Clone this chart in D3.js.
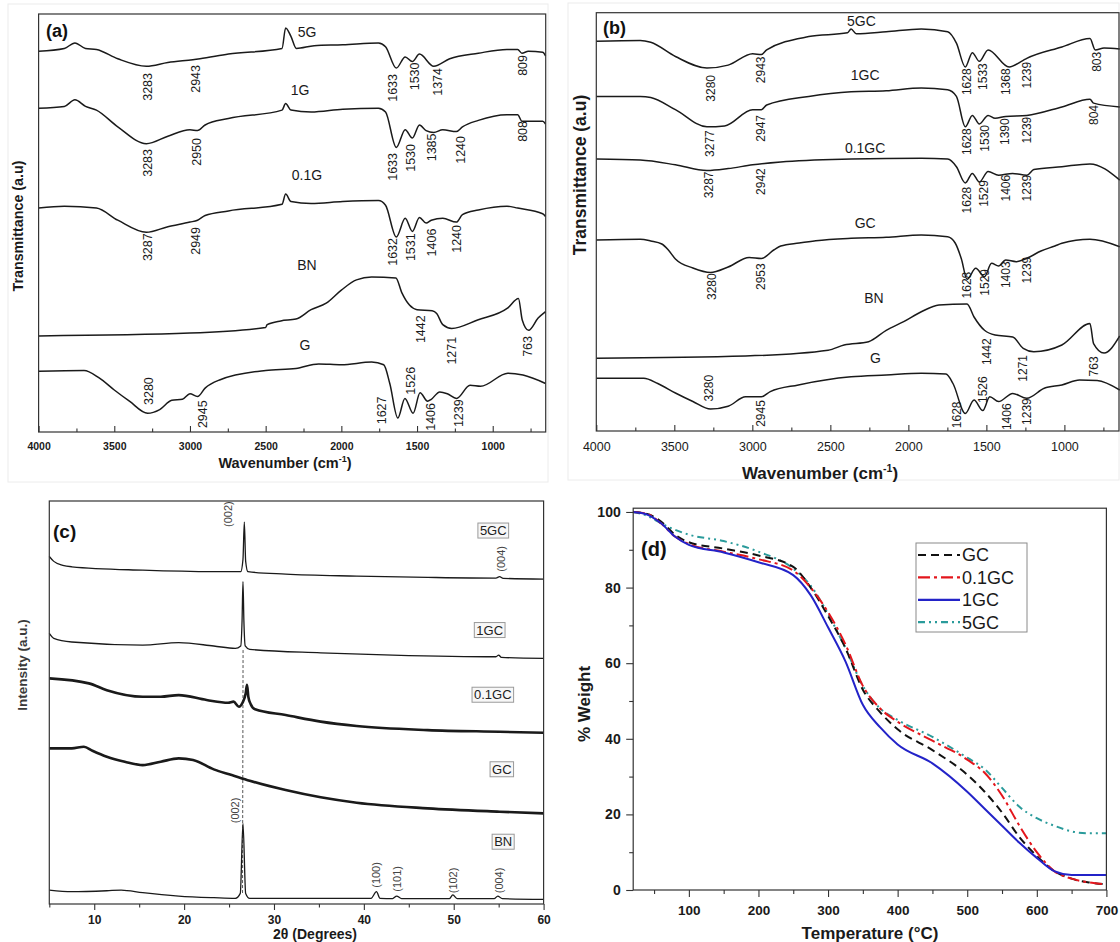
<!DOCTYPE html>
<html>
<head>
<meta charset="utf-8">
<title>FTIR, XRD and TGA of the composites</title>
<script src="https://cdn.jsdelivr.net/npm/d3@7"></script>
<style>
  body { margin: 0; background: #fff; }
  svg { display: block; }
</style>
</head>
<body>
<div id="figure"></div>
<script>
// ---------- shared FTIR axis ----------
const wnTicks = [4000, 3500, 3000, 2500, 2000, 1500, 1000];
const wnMinor = [3750, 3250, 2750, 2250, 1750, 1250, 750];

// ---------- (a) FTIR: [wavenumber, transmittance a.u. (stacked)] ----------
const a5G = [[4000,380.7],[3830,383.5],[3760,389.1],[3690,383.5],[3618,382.5],[3477,373.2],[3288,365.7],[3146,369.5],[2981,372.3],[2934,373.2],[2746,377.9],[2392,383.5],[2368,404],[2333,395.6],[2297,383.5],[2180,386.3],[1991,387.2],[1755,389.1],[1708,385.3],[1637,363.9],[1578,375.1],[1531,370.4],[1484,377.9],[1390,365.7],[1284,373.2],[1095,378.8],[906,382.5],[835,382.5],[807,378.8],[765,380.7],[670,379.7],[651,376]];
const a1G = [[4000,323.8],[3830,325.6],[3760,332.2],[3690,325.6],[3618,321.9],[3477,305.1],[3288,288.3],[3146,295.8],[3000,302.3],[2950,301.4],[2900,307],[2746,313.5],[2392,321.9],[2368,328.4],[2333,321.9],[2200,320],[1991,322.8],[1755,323.8],[1708,320],[1637,284.6],[1578,302.3],[1531,293.9],[1484,307],[1440,301.4],[1390,299.5],[1330,302.3],[1240,300.4],[1200,305.1],[1095,311.6],[906,317.2],[835,317.2],[807,310.7],[670,310.7],[651,307.9]];
const a01G = [[4000,223.9],[3830,225.8],[3618,223.9],[3477,211.8],[3288,199.7],[3146,205.3],[3000,209.9],[2950,211.8],[2900,216.5],[2746,221.1],[2392,227.7],[2368,237.9],[2333,230.5],[2200,228.6],[1991,230.5],[1755,231.4],[1708,226.7],[1637,195],[1578,213.7],[1531,200.6],[1484,214.6],[1440,209],[1406,211.8],[1330,213.7],[1240,209.9],[1200,217.4],[1095,222],[906,225.8],[835,223.9],[670,218.3],[651,215.5]];
const aBN = [[4000,96.1],[3000,98.9],[2500,104.5],[2490,107.3],[2400,111.1],[2300,112.9],[2200,122.3],[2100,128.8],[2000,141.9],[1900,152.1],[1800,154.9],[1640,154],[1600,139.1],[1550,126.9],[1500,122.3],[1400,121.3],[1370,118.5],[1330,107.3],[1271,103.6],[1100,112],[900,124.1],[830,133.5],[805,112],[763,101.7],[700,113.9],[651,120.4]];
const aG = [[4000,60.7],[3700,61.6],[3600,54.1],[3500,42],[3400,30.8],[3280,18.7],[3200,22.4],[3120,31.7],[3050,32.7],[3000,38.3],[2950,35.5],[2900,43.9],[2800,52.3],[2500,61.6],[2300,63.5],[2150,68.1],[2000,67.2],[1800,70],[1720,67.2],[1680,48.5],[1627,14],[1580,33.6],[1526,18.7],[1480,39.2],[1430,30.8],[1406,32.7],[1350,40.1],[1300,38.3],[1239,33.6],[1150,46.7],[1080,45.7],[900,58.8],[800,56.9],[651,48.5]];

// peak labels: [text, wavenumber position, a.u. position, "s" = text sits above]
const aPeaks = [
  ["3283",3277,359],["2943",2960,367],["1633",1659,358],["1530",1519,369.5],["1374",1365,364],["809",800,377],
  ["3283",3277,283],["2950",2958,294],["1633",1659,279],["1530",1541,288],["1385",1402,298.5],["1240",1212,296],["808",800,311],
  ["3287",3277,198.7],["2949",2960,205],["1632",1659,194],["1531",1541,198.7],["1406",1402,203.4],["1240",1236,207],
  ["1442",1476,116.7],["1271",1271,95.2],["763",768,96],
  ["3280",3270,27,"s"],["2945",2914,31.7],["1627",1732,35.5],["1526",1540,37.3,"s"],["1406",1408,29],["1239",1223,32.7]
];
const aNames = [["5G",2227,400],["1G",2273,342],["0.1G",2227,257],["BN",2227,167],["G",2240,87]];

// ---------- (b) FTIR ----------
const b5GC = [[4000,389.7],[3718,390.6],[3651,388.7],[3493,374.5],[3291,363],[3155,365.9],[2998,377.3],[2942,376.4],[2908,381.1],[2638,394.4],[2390,398.2],[2367,402],[2334,397.3],[2142,399.2],[1917,402],[1748,399.2],[1692,387.8],[1635,364],[1590,378.3],[1545,369.7],[1489,381.1],[1354,364],[1264,370.7],[1241,372.6],[1016,384],[836,392.5],[802,381.1],[746,383],[645,382]];
const b1GC = [[4000,334.6],[3718,334.6],[3651,333.6],[3493,321.3],[3291,304.2],[3178,305.1],[2998,321.3],[2942,321.3],[2908,326],[2638,334.6],[2367,339.3],[2142,340.3],[1917,343.1],[1748,341.2],[1692,334.6],[1635,304.2],[1590,315.6],[1545,307],[1489,315.6],[1444,312.7],[1376,314.6],[1241,315.6],[1016,324.1],[836,331.7],[813,327.9],[645,324.1]];
const b01GC = [[4000,271.9],[3718,270.9],[3493,266.2],[3291,260.5],[3155,262.4],[2998,266.2],[2818,269],[2367,271.9],[1917,272.8],[1748,271.9],[1692,264.3],[1635,248.1],[1590,257.6],[1545,249],[1489,259.5],[1422,255.7],[1332,257.6],[1241,255.7],[1196,261.4],[1016,264.3],[836,267.1],[645,250.9]];
const bGC = [[4000,191],[3718,191.7],[3651,190],[3580,187],[3538,181],[3493,172],[3381,163],[3268,158.5],[3155,164],[3020,173.5],[2942,172.5],[2863,181],[2818,185],[2700,188],[2593,190.3],[2367,192.7],[2142,193.7],[1917,196],[1748,194.3],[1700,188],[1660,172],[1624,151.7],[1568,162.7],[1512,154.3],[1467,167.7],[1422,165],[1376,171],[1309,169.3],[1241,172.7],[1150,180],[1061,185],[1016,187.7],[836,191.7],[645,184.3]];
const bBN = [[4000,72.7],[3043,75],[2514,80.8],[2412,86],[2255,89.3],[2142,100.7],[2030,109.3],[1917,119.2],[1804,126],[1624,127],[1579,114],[1512,100.7],[1444,96],[1331,94],[1264,82.7],[1196,79.3],[1016,86],[836,107.4],[813,87.4],[746,77.9],[645,95]];
const bG = [[4000,52.7],[3696,52.7],[3606,47.5],[3493,38],[3381,29.5],[3268,21.9],[3155,24.7],[3043,34.2],[2942,34.2],[2885,39.4],[2705,46.1],[2367,54.2],[2142,56],[1917,57.7],[1759,57],[1714,47.5],[1635,17.6],[1579,31],[1523,20.4],[1478,34.2],[1422,29.5],[1331,37.6],[1241,32.7],[1129,42.8],[1016,46.1],[903,51],[790,50.4],[645,40.9]];

const bPeaks = [
  ["3280",3268,356],["2943",2943,374.5],["1628",1624,362.6],["1533",1524,367.8],["1368",1377,362.6],["1239",1242,369.2],["803",793,379.2],
  ["3277",3270,300.8],["2947",2943,316],["1628",1624,302.7],["1530",1507,306],["1390",1383,312.7],["1239",1242,314.3],["804",813,326],
  ["3287",3279,259.5],["2942",2943,262.8],["1628",1624,244.3],["1529",1516,250.9],["1406",1377,256.2],["1239",1242,256.2],
  ["3280",3258,157.7],["2953",2943,167.7],["1628",1624,159.3],["1529",1507,162],["1403",1377,169.6],["1239",1242,174.3],
  ["1442",1500,92.6],["1271",1264,76],["763",813,74.6],
  ["3280",3279,29.5,"s"],["2945",2943,30.9],["1628",1691,29.5],["1526",1524,28,"s"],["1406",1372,27.6],["1239",1242,32.8]
];
const bNames = [["5GC",2301,410],["1GC",2277,356],["0.1GC",2277,283],["GC",2277,208],["BN",2221,132.6],["G",2211,72.7]];

// ---------- (c) XRD: [2theta, intensity a.u. (stacked)] ----------
const c5GC = [[5.0,355],[5.5,350],[6.5,346],[7.5,344.5],[15.4,341],[23.3,339.5],[26.3,339.5],[26.55,352],[26.7,390],[26.85,350],[27.1,339.5],[31.3,337],[39.2,335],[47.1,333.7],[54.7,333],[55.1,334.4],[55.5,332.7],[60,332]];
const c1GC = [[5.0,276.7],[5.5,271.7],[7.5,268],[15.4,264.9],[19.4,267.3],[23.3,263.9],[25.7,261.5],[26.3,264],[26.45,290],[26.55,329.3],[26.65,290],[26.8,264],[27.3,260.5],[35.2,257],[43.2,254.7],[54.7,253],[55,254.7],[55.3,252.3],[60,251.3]];
const c01GC = [[5.0,231],[9.4,225.9],[11.4,219],[15.4,212.3],[17.4,212.3],[19.4,214],[22.5,209],[24.9,206.2],[25.5,207.3],[26.1,202.2],[26.5,206.2],[26.85,215.7],[27.0,224.5],[27.15,212],[27.4,205],[27.9,199.5],[31.3,193.7],[35.2,187],[39.2,182.5],[47.1,178.4],[55.1,176.7],[60,175.7]];
const cGC = [[5.0,159.8],[7.5,159.8],[8.85,161.5],[9.8,157.4],[11.4,151.3],[13.4,146.2],[15.4,142.8],[17.4,146.2],[19.4,149.6],[21,148],[23.3,138.4],[25.3,132.7],[27.3,126.9],[31.3,117.4],[35.2,110],[39.2,104.5],[47.1,98.8],[55.1,95.4],[60,93.7]];
const cBN = [[5.0,15.7],[7.5,14],[11.4,15],[13,15.7],[15.4,13],[19.4,9.6],[23.3,7.9],[25.7,7.2],[26.25,12.3],[26.55,83.5],[26.85,12.3],[27.3,7.2],[40.8,7.2],[41.4,14],[41.8,7.2],[43.2,7],[43.65,9.6],[44.2,6.9],[49.5,6.9],[49.9,10.7],[50.4,6.9],[54.5,6.9],[54.9,9.6],[55.4,6.9],[60,6.2]];
const cRefLine = [[26.56,259.8],[26.5,12.7]];
const cPeaks = [["(002)",24.9,385],["(004)",55.3,339.5],["(002)",25.7,83.6],["(100)",41.4,18],["(101)",43.7,14],["(102)",49.9,12.4],["(004)",55.1,12.4]];
const cNames = [["5GC",54.4,381.4],["1GC",54.0,280.2],["0.1GC",54.35,214.4],["GC",55.35,138.6],["BN",55.5,64.9]];
const cTicks = [10, 20, 30, 40, 50, 60];
const cMinor = [5, 15, 25, 35, 45, 55];

// ---------- (d) TGA: % weight vs temperature ----------
const tgaTemp = [20, 40, 60, 80, 100, 150, 200, 250, 275, 300, 325, 350, 375, 400, 450, 500, 525, 550, 575, 600, 625, 650, 675, 700];
const tgaGC   = [100, 99.5, 97.5, 94, 92, 90.3, 88.5, 85.5, 80, 72.5, 64, 53, 47, 42.5, 37, 30.5, 26, 20.5, 14, 9, 5, 3, 2, 1.5];
const tga01GC = [100, 99.5, 97, 93.5, 91.5, 89.5, 87.5, 84.5, 80, 73.5, 65, 54, 48, 44.5, 39.5, 34.5, 31, 25, 17, 10, 5, 3, 2, 1.5];
const tga1GC  = [100, 99.3, 97, 93.5, 91.3, 89.3, 86.7, 83.3, 78, 69.5, 60.5, 49, 43, 38.5, 33.5, 26, 21.5, 17, 12.5, 8.5, 5, 4, 4, 4];
const tga5GC  = [100, 99, 97, 95.3, 94, 92.3, 89.5, 85, 80.5, 73, 64, 54, 48, 45, 40.5, 35, 32, 27, 22, 19, 17, 15.5, 15, 15];
const tgaNames = ["GC", "0.1GC", "1GC", "5GC"];
const tgaColors = ["#111111", "#e3161c", "#2323c8", "#2a9b9b"];
const tgaDash = ["8,5", "12,4,3,4", null, "7,4,2,4,2,4"];
const tgaXTicks = [100, 200, 300, 400, 500, 600, 700];
const tgaXMinor = [50, 150, 250, 350, 450, 550, 650];
const tgaYTicks = [0, 20, 40, 60, 80, 100];
const tgaYMinor = [10, 30, 50, 70, 90];

const FONT = "'Liberation Sans', Arial, Helvetica, sans-serif";
const INK = "#1a1a1a";

const svg = d3.select("#figure").append("svg")
  .attr("width", 1120).attr("height", 942)
  .style("font-family", FONT);
svg.append("rect").attr("width", 1120).attr("height", 942).attr("fill", "#fff");

// faint borders of the pasted sub-figures
svg.append("rect").attr("x", 8).attr("y", 4).attr("width", 540).attr("height", 478)
  .attr("fill", "none").attr("stroke", "#ececec");
svg.append("rect").attr("x", 568).attr("y", 3).attr("width", 551).attr("height", 477)
  .attr("fill", "none").attr("stroke", "#ececec");

function styleAxis(sel, size, weight) {
  sel.select(".domain").remove();
  sel.selectAll("line").attr("stroke", "#333").attr("stroke-width", 1.1);
  sel.selectAll("text").attr("fill", INK)
    .style("font-family", FONT).style("font-size", size + "px").style("font-weight", weight);
}

function boxFrame(g, x0, y0, x1, y1) {
  g.append("rect").attr("x", x0).attr("y", y0).attr("width", x1 - x0).attr("height", y1 - y0)
    .attr("fill", "none").attr("stroke", "#333").attr("stroke-width", 1.2);
}

function drawFtir(cfg) {
  const g = svg.append("g");
  const x = d3.scaleLinear().domain([4000, 650]).range([cfg.left, cfg.right]);
  const y = d3.scaleLinear().domain([0, cfg.yMax]).range([cfg.bottom, cfg.top]);
  const line = d3.line().x(d => x(d[0])).y(d => y(d[1])).curve(d3.curveMonotoneX);

  cfg.spectra.forEach(s => {
    g.append("path").attr("d", line(s)).attr("fill", "none")
      .attr("stroke", INK).attr("stroke-width", 1.5).attr("stroke-linejoin", "round");
  });

  cfg.peaks.forEach(([t, wn, v, pos]) => {
    g.append("text")
      .attr("transform", `translate(${x(wn)},${y(v)}) rotate(-90)`)
      .attr("text-anchor", pos === "s" ? "start" : "end")
      .attr("dy", "0.35em")
      .attr("fill", INK)
      .style("font-size", cfg.peakSize + "px")
      .text(t);
  });

  cfg.names.forEach(([t, wn, v]) => {
    g.append("text").attr("x", x(wn)).attr("y", y(v)).attr("dy", "0.35em")
      .attr("text-anchor", "middle").attr("fill", INK)
      .style("font-size", cfg.nameSize + "px").text(t);
  });

  boxFrame(g, cfg.left, cfg.top, cfg.right, cfg.bottom);

  g.append("g").attr("transform", `translate(0,${cfg.bottom})`)
    .call(d3.axisBottom(x).tickValues(wnTicks).tickSize(-6).tickPadding(cfg.tickPad).tickFormat(d3.format("d")))
    .call(a => styleAxis(a, cfg.tickSize, cfg.tickWeight));
  g.append("g").attr("transform", `translate(0,${cfg.bottom})`)
    .call(d3.axisBottom(x).tickValues(wnMinor).tickSize(-3.5).tickFormat(""))
    .call(a => styleAxis(a, 10, "normal"));

  const xt = g.append("text").attr("x", cfg.xTitleX).attr("y", cfg.xTitleY)
    .attr("text-anchor", "middle").attr("fill", INK)
    .style("font-weight", "bold").style("font-size", cfg.xTitleSize + "px");
  xt.append("tspan").text("Wavenumber (cm");
  xt.append("tspan").attr("dy", -cfg.xTitleSize * 0.42).style("font-size", (cfg.xTitleSize * 0.62) + "px").text("-1");
  xt.append("tspan").attr("dy", cfg.xTitleSize * 0.42).text(")");

  g.append("text")
    .attr("transform", `translate(${cfg.yTitleX},${cfg.yTitleY}) rotate(-90)`)
    .attr("text-anchor", "middle").attr("dy", "0.35em").attr("fill", INK)
    .style("font-weight", "bold").style("font-size", cfg.yTitleSize + "px")
    .text("Transmittance (a.u)");

  g.append("text").attr("x", cfg.tagX).attr("y", cfg.tagY).attr("fill", "#111")
    .style("font-weight", "bold").style("font-size", "18px").text(cfg.tag);
}

// (a)
drawFtir({
  left: 38.6, right: 545.7, top: 14, bottom: 432, yMax: 418,
  spectra: [a5G, a1G, a01G, aBN, aG], peaks: aPeaks, names: aNames,
  peakSize: 12.5, nameSize: 14, tickSize: 10.5, tickWeight: "bold", tickPad: 11,
  xTitleX: 285, xTitleY: 468, xTitleSize: 14.5,
  yTitleX: 18, yTitleY: 226, yTitleSize: 14.3,
  tag: "(a)", tagX: 46, tagY: 37
});

// (b)
drawFtir({
  left: 596.3, right: 1119, top: 12.7, bottom: 431, yMax: 418.3,
  spectra: [b5GC, b1GC, b01GC, bGC, bBN, bG], peaks: bPeaks, names: bNames,
  peakSize: 12, nameSize: 14, tickSize: 12.5, tickWeight: "normal", tickPad: 11,
  xTitleX: 820, xTitleY: 479, xTitleSize: 17,
  yTitleX: 580, yTitleY: 175, yTitleSize: 17.5,
  tag: "(b)", tagX: 603, tagY: 34
});

// (c) XRD
{
  const g = svg.append("g");
  const x = d3.scaleLinear().domain([5, 60]).range([49.3, 543.6]);
  const y = d3.scaleLinear().domain([1.5, 411.4]).range([904, 501]);
  const line = d3.line().x(d => x(d[0])).y(d => y(d[1])).curve(d3.curveMonotoneX);

  g.append("path").attr("d", d3.line().x(d => x(d[0])).y(d => y(d[1]))(cRefLine)).attr("fill", "none")
    .attr("stroke", "#555").attr("stroke-width", 1).attr("stroke-dasharray", "3,2");

  [[c5GC, 1.3], [c1GC, 1.3], [c01GC, 2.6], [cGC, 2.6], [cBN, 1.3]].forEach(([s, w]) => {
    g.append("path").attr("d", line(s)).attr("fill", "none")
      .attr("stroke", INK).attr("stroke-width", w).attr("stroke-linejoin", "round");
  });

  cPeaks.forEach(([t, th, v]) => {
    g.append("text")
      .attr("transform", `translate(${x(th)},${y(v)}) rotate(-90)`)
      .attr("text-anchor", "start").attr("dy", "0.35em").attr("fill", "#444")
      .style("font-size", "11px").text(t);
  });

  cNames.forEach(([t, th, v]) => {
    const lab = g.append("g");
    const txt = lab.append("text").attr("x", x(th)).attr("y", y(v)).attr("dy", "0.35em")
      .attr("text-anchor", "middle").attr("fill", "#222").style("font-size", "13px").text(t);
    const bb = txt.node().getBBox();
    lab.insert("rect", "text").attr("x", bb.x - 2).attr("y", bb.y)
      .attr("width", bb.width + 4).attr("height", bb.height)
      .attr("fill", "#f7f7f7").attr("stroke", "#9a9a9a").attr("stroke-width", 1);
  });

  boxFrame(g, 49.3, 501, 543.6, 904);

  g.append("g").attr("transform", "translate(0,904)")
    .call(d3.axisBottom(x).tickValues(cTicks).tickSize(6).tickPadding(5.5).tickFormat(d3.format("d")))
    .call(a => styleAxis(a, 12, "bold"));
  g.append("g").attr("transform", "translate(0,904)")
    .call(d3.axisBottom(x).tickValues(cMinor).tickSize(3.5).tickFormat(""))
    .call(a => styleAxis(a, 10, "normal"));

  g.append("text").attr("x", 315).attr("y", 939).attr("text-anchor", "middle")
    .attr("fill", INK).style("font-weight", "bold").style("font-size", "14px")
    .text("2\u03b8 (Degrees)");
  g.append("text").attr("transform", "translate(22,665) rotate(-90)")
    .attr("text-anchor", "middle").attr("dy", "0.35em").attr("fill", "#3a3a3a")
    .style("font-weight", "bold").style("font-size", "13.5px").text("Intensity (a.u.)");
  g.append("text").attr("x", 53).attr("y", 538).attr("fill", "#111")
    .style("font-weight", "bold").style("font-size", "19px").text("(c)");
}

// (d) TGA
{
  const g = svg.append("g");
  const x = d3.scaleLinear().domain([20, 700]).range([633.2, 1106.4]);
  const y = d3.scaleLinear().domain([0, 101]).range([890, 508.2]);
  const series = [tgaGC, tga01GC, tga1GC, tga5GC];
  const line = d3.line().x((d, i) => x(tgaTemp[i])).y(d => y(d)).curve(d3.curveMonotoneX);

  [3, 0, 1, 2].forEach(k => {
    const p = g.append("path").attr("d", line(series[k])).attr("fill", "none")
      .attr("stroke", tgaColors[k]).attr("stroke-width", 2);
    if (tgaDash[k]) p.attr("stroke-dasharray", tgaDash[k]);
  });

  boxFrame(g, 633.2, 508.2, 1106.4, 890);

  g.append("g").attr("transform", "translate(0,890)")
    .call(d3.axisBottom(x).tickValues(tgaXTicks).tickSize(7).tickPadding(8.5).tickFormat(d3.format("d")))
    .call(a => styleAxis(a, 13.5, "bold"));
  g.append("g").attr("transform", "translate(0,890)")
    .call(d3.axisBottom(x).tickValues(tgaXMinor).tickSize(4).tickFormat(""))
    .call(a => styleAxis(a, 10, "normal"));
  g.append("g").attr("transform", "translate(633.2,0)")
    .call(d3.axisLeft(y).tickValues(tgaYTicks).tickSize(7).tickPadding(5.5).tickFormat(d3.format("d")))
    .call(a => styleAxis(a, 14, "bold"));
  g.append("g").attr("transform", "translate(633.2,0)")
    .call(d3.axisLeft(y).tickValues(tgaYMinor).tickSize(4).tickFormat(""))
    .call(a => styleAxis(a, 10, "normal"));

  g.append("text").attr("x", 870).attr("y", 939).attr("text-anchor", "middle")
    .attr("fill", INK).style("font-weight", "bold").style("font-size", "17px")
    .text("Temperature (\u00b0C)");
  g.append("text").attr("transform", "translate(584,704) rotate(-90)")
    .attr("text-anchor", "middle").attr("dy", "0.35em").attr("fill", INK)
    .style("font-weight", "bold").style("font-size", "17px").text("% Weight");
  g.append("text").attr("x", 641).attr("y", 556).attr("fill", "#111")
    .style("font-weight", "bold").style("font-size", "20px").text("(d)");

  // legend
  const lg = g.append("g");
  lg.append("rect").attr("x", 916).attr("y", 543).attr("width", 111).attr("height", 89)
    .attr("fill", "#fff").attr("stroke", "#8a8a8a").attr("stroke-width", 1);
  tgaNames.forEach((nm, k) => {
    const yy = 555 + k * 22.4;
    const l = lg.append("line").attr("x1", 918).attr("x2", 960).attr("y1", yy).attr("y2", yy)
      .attr("stroke", tgaColors[k]).attr("stroke-width", 2.2);
    if (tgaDash[k]) l.attr("stroke-dasharray", tgaDash[k]);
    lg.append("text").attr("x", 962).attr("y", yy).attr("dy", "0.35em").attr("fill", INK)
      .style("font-size", "18px").text(nm);
  });
}
</script>
</body>
</html>
